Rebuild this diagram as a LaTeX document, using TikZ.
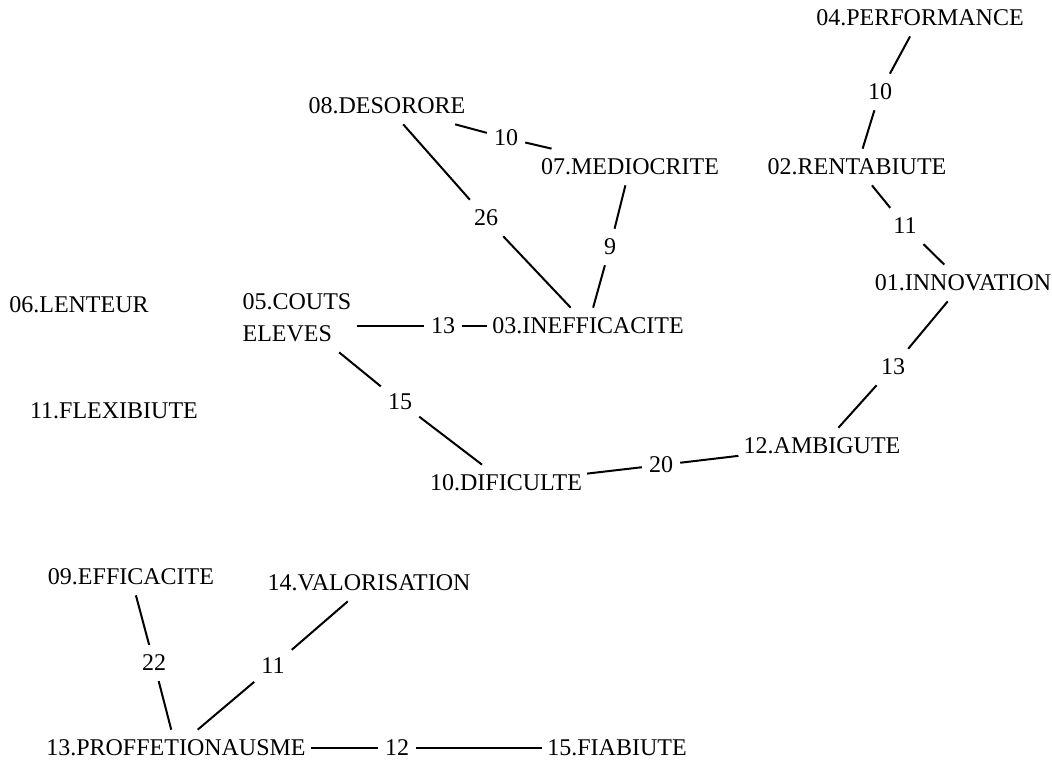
\documentclass[tikz,border=0pt]{standalone}
\usepackage{fontspec}
\setmainfont{Liberation Serif}
\begin{document}
\begin{tikzpicture}[x=1pt,y=-1pt,
  concept/.style={inner xsep=5pt, inner ysep=10pt, font=\fontsize{24}{32}\selectfont},
  weight/.style={inner xsep=7pt, inner ysep=10pt, font=\fontsize{24}{32}\selectfont},
  link/.style={line width=2pt}]

\useasboundingbox (0,0) rectangle (1052,760);

% upper group
\node [concept] (perf) at (920,18) {04.PERFORMANCE};
\node [concept] (rent) at (857,167) {02.RENTABIUTE};
\node [concept] (inno) at (963,283) {01.INNOVATION};
\node [concept] (ambi) at (822,446) {12.AMBIGUTE};
\node [concept] (difi) at (506,483) {10.DIFICULTE};
\node [concept, align=left] (couts) at (297,318) {05.COUTS\\ELEVES};
\node [concept] (inef) at (588,326) {03.INEFFICACITE};
\node [concept] (deso) at (387,106) {08.DESORORE};
\node [concept] (medi) at (630,167) {07.MEDIOCRITE};

\node [weight] (w1) at (880,92) {10};
\node [weight] (w2) at (905,226) {11};
\node [weight] (w3) at (893,367) {13};
\node [weight] (w4) at (661,465) {20};
\node [weight] (w5) at (400,402) {15};
\node [weight] (w6) at (443,326) {13};
\node [weight] (w7) at (486,218) {26};
\node [weight] (w8) at (506,138) {10};
\node [weight] (w9) at (610,247) {9};

\draw [link] (perf) -- (w1) -- (rent);
\draw [link] (rent) -- (w2) -- (inno);
\draw [link] (inno) -- (w3) -- (ambi);
\draw [link] (ambi) -- (w4) -- (difi);
\draw [link] (difi) -- (w5) -- (couts);
\draw [link] (couts.east |- w6) -- (w6) -- (inef);
\draw [link] (inef) -- (w7) -- (deso);
\draw [link] (deso) -- (w8) -- (medi);
\draw [link] (medi) -- (w9) -- (inef);

% isolated
\node [concept] (lent) at (79,305) {06.LENTEUR};
\node [concept] (flex) at (114,411) {11.FLEXIBIUTE};

% lower group
\node [concept] (effi) at (131,577) {09.EFFICACITE};
\node [concept] (valo) at (369,583) {14.VALORISATION};
\node [concept] (prof) at (176,748) {13.PROFFETIONAUSME};
\node [concept] (fiab) at (617,748) {15.FIABIUTE};

\node [weight] (w10) at (154,663) {22};
\node [weight] (w11) at (273,666) {11};
\node [weight] (w12) at (397,748) {12};

\draw [link] (effi) -- (w10) -- (prof);
\draw [link] (valo) -- (w11) -- (prof);
\draw [link] (prof) -- (w12) -- (fiab);
\end{tikzpicture}
\end{document}
